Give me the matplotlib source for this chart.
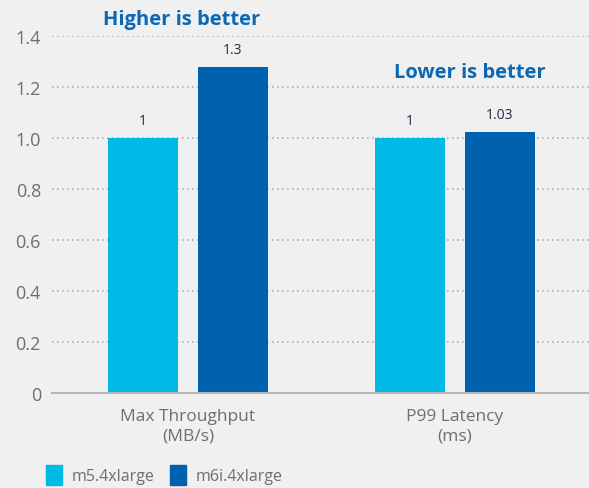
import matplotlib
matplotlib.use("Agg")
import matplotlib.pyplot as plt
from matplotlib.patches import Patch
import numpy as np

categories = ["Max Throughput\n(MB/s)", "P99 Latency\n(ms)"]
series_names = ["m5.4xlarge", "m6i.4xlarge"]
m5_values = [1.0, 1.0]
m6i_values = [1.28, 1.025]
m5_labels = ["1", "1"]
m6i_labels = ["1.3", "1.03"]
yticks = [0, 0.2, 0.4, 0.6, 0.8, 1.0, 1.2, 1.4]
ytick_labels = ["0", "0.2", "0.4", "0.6", "0.8", "1.0", "1.2", "1.4"]
notes = ["Higher is better", "Lower is better"]

BG = "#f0f0f0"
C1 = "#00b9e6"
C2 = "#0061ae"
TXT = "#6e6e6e"
NAVY = "#1e2a4a"
TITLE = "#0a68b4"

plt.rcParams['font.family'] = ['Open Sans', 'DejaVu Sans']

W, H = 589, 489
fig = plt.figure(figsize=(W/100, H/100), dpi=100, facecolor=BG)
ax = fig.add_axes([52/W, 1-394/H, (W-52)/W, (394-37)/H])
ax.set_facecolor(BG)

x = np.arange(len(categories))
bw = 0.262
off = 0.1685
b1 = ax.bar(x - off, m5_values, bw, color=C1, zorder=3)
b2 = ax.bar(x + off, m6i_values, bw, color=C2, zorder=3)

for bars, labs in ((b1, m5_labels), (b2, m6i_labels)):
    for r, lab in zip(bars, labs):
        ax.annotate(lab, (r.get_x() + r.get_width()/2, r.get_height()),
                    xytext=(0, 7), textcoords="offset points",
                    ha="center", va="bottom", fontsize=10, color=NAVY)

ax.set_xlim(-0.509, 1.502)
ax.set_ylim(0, 1.4)
ax.set_yticks(yticks)
ax.set_yticklabels(ytick_labels)
ax.set_xticks(x)
ax.set_xticklabels(categories, fontsize=12.5, color=TXT, linespacing=1.3)
ax.tick_params(axis="y", length=0, pad=8, labelsize=13, labelcolor=TXT)
ax.tick_params(axis="x", length=0, pad=11)
for s in ["top", "right", "left"]:
    ax.spines[s].set_visible(False)
ax.spines["bottom"].set_color("#b5b5b5")
ax.spines["bottom"].set_linewidth(1.5)
ax.spines["bottom"].set_zorder(4)
ax.yaxis.grid(True, linestyle=(0, (1, 2)), color="#b0b0b0", linewidth=1.2, zorder=0)
ax.set_axisbelow(True)

fig.text(182/W, 1-20/H, notes[0], ha="center", va="center",
         fontsize=14.5, fontweight="bold", color=TITLE)
fig.text(470/W, 1-73/H, notes[1], ha="center", va="center",
         fontsize=14.5, fontweight="bold", color=TITLE)

handles = [Patch(color=C1), Patch(color=C2)]
fig.legend(handles, series_names, loc="center left",
           bbox_to_anchor=(32/W, 1-476/H), ncol=2, frameon=False,
           handlelength=1.0, handleheight=1.6, handletextpad=0.6,
           columnspacing=0.95, fontsize=11.5, labelcolor=TXT)

fig.savefig("out.png", dpi=100, facecolor=BG)
